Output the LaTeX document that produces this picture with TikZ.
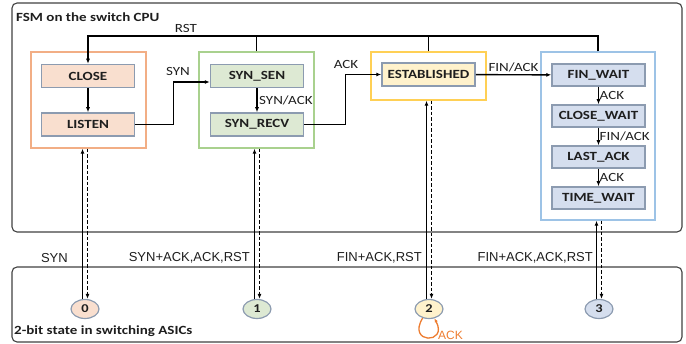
\documentclass[tikz,border=0pt]{standalone}
\usepackage{fontspec}
\setmainfont{Carlito}[FakeStretch=1.2]
\newfontfamily\arialfont{Liberation Sans}
\usetikzlibrary{shapes.geometric, arrows.meta, positioning}

\definecolor{frameline}{HTML}{404040}
\definecolor{stateline}{HTML}{8C9BB0}
\definecolor{idleline}{HTML}{F2AE85}
\definecolor{idlefill}{HTML}{F9DFCF}
\definecolor{synline}{HTML}{A9D18E}
\definecolor{synfill}{HTML}{DDE9D3}
\definecolor{estline}{HTML}{FFD055}
\definecolor{estfill}{HTML}{FFF2CC}
\definecolor{finline}{HTML}{9DC3E6}
\definecolor{finfill}{HTML}{D5DEEE}
\definecolor{loopcol}{HTML}{ED7D31}
\definecolor{ink}{HTML}{1E1E1E}

\begin{document}
\begin{tikzpicture}[
    x=1pt, y=-1pt,
    font=\fontsize{12.5}{14}\selectfont,
    text=ink,
    %% ── Box styles ──────────────────────────────────────────────────────
    frame/.style={
        draw=frameline, line width=1.1pt,
        rounded corners=5pt,
        inner sep=0pt,
    },
    group/.style={
        draw, line width=1.4pt,
        minimum width=115pt, minimum height=96pt,
        inner sep=0pt,
    },
    statebox/.style={
        draw=stateline, line width=1.5pt,
        minimum width=93pt, minimum height=23pt,
        inner sep=0pt,
        font=\fontsize{12.5}{14}\selectfont\bfseries,
    },
    bit/.style={
        ellipse, draw=stateline, line width=1.2pt,
        minimum width=28pt, minimum height=19pt,
        inner sep=0pt,
        font=\fontsize{12}{13}\selectfont\bfseries,
    },
    title/.style={anchor=west, inner sep=0pt, font=\fontsize{12.5}{15}\selectfont\bfseries},
    %% ── Arrow styles ────────────────────────────────────────────────────
    %% State transition
    flow/.style={
        -{Latex[length=5pt, width=4pt]},
        line width=1.4pt,
    },
    %% Plain branch of the RST line
    bus/.style={line width=1.4pt},
    %% ASIC state -> CPU (solid), CPU -> ASIC state (dashed)
    push/.style={
        -{Latex[length=5pt, width=4pt]},
        line width=1.3pt,
    },
    pull/.style={
        -{Latex[length=5pt, width=4pt]},
        line width=1.3pt, dash pattern=on 3.5pt off 2pt,
    },
    lbl/.style={inner sep=1.5pt},
    sig/.style={inner sep=0pt, font=\arialfont\fontsize{13}{15}\selectfont},
]
\useasboundingbox (0,0) rectangle (686,344);

%%─────────────────────────────────────────────────────────────────────────
%% Frames
%%─────────────────────────────────────────────────────────────────────────
\node[frame, minimum width=670pt, minimum height=229pt] (cpu) at (347,117.5) {};
\node[frame, minimum width=670pt, minimum height=75pt] (asic) at (347,304.5) {};
\node[title] (cpulbl) at (16,17) {FSM on the switch CPU};
\node[title] (asiclbl) at (14,331) {2-bit state in switching ASICs};

%%─────────────────────────────────────────────────────────────────────────
%% State groups
%%─────────────────────────────────────────────────────────────────────────
\node[group, draw=idleline] (grpIdle) at (88.5,100) {};
\node[group, draw=synline] (grpSyn) at (256.5,100) {};
\node[group, draw=estline, minimum height=48pt] (grpEst) at (428.5,76) {};
\node[group, draw=finline, minimum width=114pt, minimum height=168pt] (grpFin) at (598,136) {};

%%─────────────────────────────────────────────────────────────────────────
%% States
%%─────────────────────────────────────────────────────────────────────────
\node[statebox, fill=idlefill] (close) at (88,76) {CLOSE};
\node[statebox, fill=idlefill] (listen) at (88,124.5) {LISTEN};
\node[statebox, fill=synfill] (synsen) at (257,76) {SYN\_SEN};
\node[statebox, fill=synfill] (synrecv) at (257,124.5) {SYN\_RECV};
\node[statebox, fill=estfill] (estab) at (428.5,74.5) {ESTABLISHED};
\node[statebox, fill=finfill, minimum height=22pt] (finwait) at (598.5,75) {FIN\_WAIT};
\node[statebox, fill=finfill, minimum height=22pt] (closewait) at (598.5,116) {CLOSE\_WAIT};
\node[statebox, fill=finfill, minimum height=22pt] (lastack) at (598.5,157) {LAST\_ACK};
\node[statebox, fill=finfill, minimum height=22pt] (timewait) at (598.5,198) {TIME\_WAIT};

%%─────────────────────────────────────────────────────────────────────────
%% 2-bit states
%%─────────────────────────────────────────────────────────────────────────
\node[bit, fill=idlefill] (st0) at (85,309) {0};
\node[bit, fill=synfill] (st1) at (257,309) {1};
\node[bit, fill=estfill] (st2) at (429,309) {2};
\node[bit, fill=finfill] (st3) at (599,309) {3};

%%─────────────────────────────────────────────────────────────────────────
%% Transitions
%%─────────────────────────────────────────────────────────────────────────

%% RST from every group back to CLOSE
\coordinate (rstbus) at (88,36);
\draw[flow] (grpFin.north) |- (rstbus) -- (close.north);
\draw[bus] (grpSyn.north) -- (grpSyn.north |- rstbus);
\draw[bus] (grpEst.north) -- (grpEst.north |- rstbus);
\node[lbl] (rstlbl) at (186,28) {RST};

%% handshake
\draw[flow] (close) -- (listen);
\draw[flow] (listen.east) -- ++(38,0) |- ([yshift=-6pt]synsen.west);
\node[lbl] (synlbl) at (178,71) {SYN};
\draw[flow] (synsen) -- (synrecv)
    node[lbl, midway, right] {SYN/ACK};
\draw[flow] (synrecv.east) -- ++(41,0) |- (estab.west);
\node[lbl] (acklbl) at (346,64) {ACK};

%% teardown
\draw[flow] (estab) -- (finwait)
    node[lbl, midway, above=1pt] {FIN/ACK};
\draw[flow] (finwait) -- (closewait)
    node[lbl, midway, right, inner sep=0.5pt] {ACK};
\draw[flow] (closewait) -- (lastack)
    node[lbl, midway, right, inner sep=0.5pt] {FIN/ACK};
\draw[flow] (lastack) -- (timewait)
    node[lbl, midway, right, inner sep=0.5pt] {ACK};

%%─────────────────────────────────────────────────────────────────────────
%% CPU <-> ASIC
%%─────────────────────────────────────────────────────────────────────────
\draw[push] ([xshift=-2.5pt]st0.north) -- ([xshift=-2.5pt]st0.north |- grpIdle.south);
\draw[pull] ([xshift=2.5pt]st0.north |- grpIdle.south) -- ([xshift=2.5pt]st0.north);
\draw[push] ([xshift=-2.5pt]st1.north) -- ([xshift=-2.5pt]st1.north |- grpSyn.south);
\draw[pull] ([xshift=2.5pt]st1.north |- grpSyn.south) -- ([xshift=2.5pt]st1.north);
\draw[push] ([xshift=-2.5pt]st2.north) -- ([xshift=-2.5pt]st2.north |- grpEst.south);
\draw[pull] ([xshift=2.5pt]st2.north |- grpEst.south) -- ([xshift=2.5pt]st2.north);
\draw[push] ([xshift=-2.5pt]st3.north) -- ([xshift=-2.5pt]st3.north |- grpFin.south);
\draw[pull] ([xshift=2.5pt]st3.north |- grpFin.south) -- ([xshift=2.5pt]st3.north);

\node[sig, anchor=east] (sig0) at (68,258) {SYN};
\node[sig, anchor=east] (sig1) at (250,258) {SYN+ACK,ACK,RST};
\node[sig, anchor=east] (sig2) at (422,258) {FIN+ACK,RST};
\node[sig, anchor=east] (sig3) at (593,258) {FIN+ACK,ACK,RST};

%% ACK keeps state 2
\draw[-{Latex[length=4pt, width=3.5pt]}, draw=loopcol, line width=1.3pt]
    (st2.235) .. controls +(-16,26) and +(14,26) .. (st2.300);
\node[sig, text=loopcol, anchor=west, font=\arialfont\fontsize{12}{14}\selectfont] (loopack) at (438,335) {ACK};

\end{tikzpicture}
\end{document}
